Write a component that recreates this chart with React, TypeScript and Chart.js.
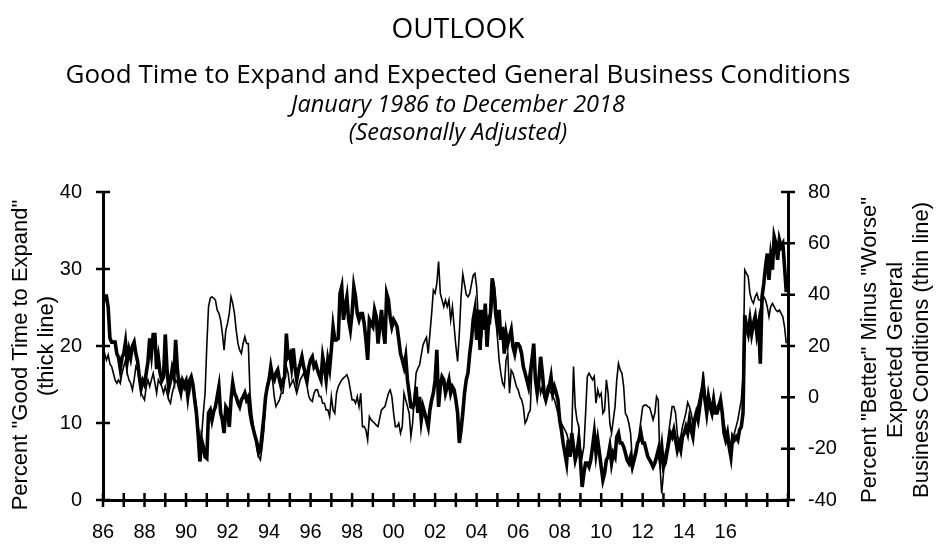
import React, { useEffect, useRef } from "react";
import Chart from "chart.js/auto";

// monthly series, one row per year (Jan..Dec)
const years = [
  1986, 1987, 1988, 1989, 1990, 1991, 1992, 1993, 1994, 1995, 1996,
  1997, 1998, 1999, 2000, 2001, 2002, 2003, 2004, 2005, 2006, 2007,
  2008, 2009, 2010, 2011, 2012, 2013, 2014, 2015, 2016, 2017, 2018,
];

// Percent "Good Time to Expand" (thick line, left axis)
const goodTimeToExpand = [
  25.5, 26.5, 26.5, 25, 21, 20.5, 20.5, 20.5, 19, 18.5, 17, 18.5,
  19, 20.5, 18, 19.5, 18.5, 20, 20.5, 19, 18, 16, 14.5, 15.5,
  15, 16.5, 18, 21, 19, 21.5, 21.5, 17, 18.5, 16.5, 15.5, 16,
  21.5, 17, 14.5, 15.5, 17, 16, 20.8, 17, 15, 14, 15.5, 15,
  15.5, 13.5, 15.5, 16, 15, 13, 11.3, 8.5, 5, 7.8, 6.9, 5.6,
  5.4, 11.3, 11.7, 10.4, 11.5, 12.1, 13.4, 14.7, 11.3, 10.4, 8.7, 12.1,
  11.7, 9.5, 13, 15.2, 13.9, 13.4, 12.6, 12.1, 13, 13.4, 13.9, 13,
  13.4, 11.3, 10, 9.1, 8.2, 7.4, 6.1, 6.5, 8.7, 10.8, 13.4, 14.7,
  15.6, 17.3, 16, 15.6, 16.5, 16.9, 15.6, 14.7, 15.6, 16, 21.6, 18.6,
  19, 17.3, 19.7, 17.3, 15.6, 16.9, 17.7, 18.6, 17.3, 16.5, 15.6, 17.3,
  18.2, 18.6, 17.3, 17.7, 16.9, 16.2, 15.6, 18.6, 17.3, 15.6, 18.2, 17,
  19.5, 22.5, 20.8, 20.8, 21, 26.8, 27.7, 23.4, 25.1, 26.4, 23.4, 22.1,
  24.2, 27.7, 26.4, 24.2, 23.4, 24.2, 24.2, 22.9, 20.8, 18.2, 23.4, 22.9,
  22.5, 24.7, 23.8, 20.3, 22.5, 24.7, 22.1, 20.3, 26.8, 26, 23.8, 22.5,
  23.4, 23, 22.5, 20.8, 19, 18.2, 17.3, 18.6, 15.6, 13.9, 12.1, 12,
  12.6, 14.7, 11.3, 13.4, 10.4, 12.1, 11.3, 10.4, 9.5, 11.7, 13, 13.9,
  15.6, 19.5, 12.1, 14.7, 16, 15.6, 13.9, 14.7, 15.6, 13.9, 14.7, 14.3,
  13, 11.3, 7.4, 9.1, 11.3, 13.9, 15.6, 16.5, 19, 20.8, 23.4, 24.7,
  20.8, 24.7, 19.5, 24.7, 22.1, 25.5, 19.9, 23.4, 24.2, 28.8, 27.3, 24.2,
  22.5, 24.7, 20.8, 22.5, 19, 21.6, 20.3, 21.2, 22.1, 19.9, 19, 20.3,
  20.3, 19.9, 19, 17.3, 16.5, 15.6, 14.7, 16.5, 18.2, 20.3, 15.6, 13.9,
  15.6, 18.6, 16.5, 13.9, 13, 13.9, 14.7, 16, 13.9, 14.7, 13.9, 13,
  10.4, 9.1, 7.4, 6.1, 4.8, 7.8, 5.6, 8.7, 6.9, 5.2, 6.1, 7.8,
  5.2, 1.7, 3.5, 4.8, 4.8, 4.3, 5.2, 6.9, 8.7, 6.1, 7.8, 6.1,
  4.3, 2.6, 3.5, 5.2, 5.6, 6.9, 4.8, 6.1, 5.6, 8.2, 8.7, 7.4,
  7.4, 6.9, 6.1, 5.2, 4.8, 5.6, 4.3, 5.2, 6.1, 7.4, 7.8, 8.7,
  7.4, 7.4, 6.5, 5.6, 5.2, 4.8, 4.3, 4.8, 5.6, 6.5, 5.2, 6.9,
  4.3, 4.8, 6.1, 7.4, 8.7, 8.2, 9.1, 7.8, 6.5, 7.4, 6.5, 8.2,
  8.7, 9.5, 8.7, 10.4, 9.1, 8.2, 10.4, 11.3, 10.4, 12.1, 13.9, 15,
  13, 11.3, 13.4, 12.1, 11.3, 13, 11.3, 11.3, 12.1, 13, 11.3, 8.7,
  7.8, 8.7, 6.9, 5.6, 8.2, 7.8, 8.2, 7.8, 9.1, 9.5, 11.3, 24,
  22.5, 21.6, 23.4, 21.6, 22.9, 23.8, 21.6, 22.9, 17.7, 26.4, 28.1, 30.3,
  32, 28.6, 31.6, 29.9, 34.2, 33.3, 31.2, 33.8, 32.9, 33.3, 30.3, 27,
];

// Percent "Better" minus "Worse" expected general business conditions (thin line, right axis)
const expectedConditions = [
  20, 17, 14.5, 16.5, 13, 12, 9.4, 6.8, 5.5, 6.8, 5.5, 9.4,
  12, 14.5, 9.4, 6.8, 5.5, 2.9, 6.8, 12, 10.6, 6.8, 1.6, 0.3,
  -1, 4.2, 6.8, 4.2, 6.8, 9.4, 5.5, 1.6, 6.8, 5.5, 4.2, 1.6,
  4.2, 1.6, -1, -2.3, 1.6, 4.2, 6.8, 5.5, 2.9, 6.8, 5.5, 2.9,
  4.2, 2.9, 1.6, 5.5, 4.2, 1.6, -3.6, -11.4, -17.9, -15.3, -6.2, 1.6,
  20, 35.3, 38.6, 39.2, 38.6, 37.9, 34, 32.7, 30.1, 24.9, 18.4, 26.2,
  28.8, 32.7, 39.2, 36.6, 32.7, 26.2, 21, 18.4, 17.1, 21, 23.6, 21,
  21, 1.6, -6.2, -11.4, -15.3, -20.5, -23.1, -24.4, -19.2, -12.7, -1, 5.5,
  8.1, 8.1, 6.8, 0.3, -3.6, -2.3, -1, 1.6, 1.6, 6.8, 12, 9.4,
  4.2, 5.5, 6.8, 4.2, 1.6, 4.2, 6.8, 8.1, 9.4, 6.8, 4.2, 0.3,
  -1, -1.6, 1.6, 2.9, 2.9, 0.3, 0.3, -2.3, -2.3, -4.9, -4.9, -7.5,
  0.3, -4.9, -6.2, 1.6, 4.2, 5.5, 6.8, 7.5, 8.1, 8.8, 6.8, 2.9,
  -1, -1, -2.3, 0.3, -3.6, 1.6, -11.4, -11.4, -12.7, -16.6, -7.5, -8.8,
  -9.4, -10.1, -10.8, -11.4, -8, -4.9, -4.2, -3.6, -1, 1.6, 2.9, 0.3,
  -6.2, -11.4, -11.4, -10.1, -14, -11.4, 1.6, -1, -3.6, -6.2, -15.3, -10,
  0.3, 9.4, 11.3, 12.6, 16.5, 20.4, 22, 23.4, 17.1, 24.9, 32.7, 41.8,
  40.5, 44.4, 52.9, 40.5, 37.9, 35.3, 37.9, 35.3, 37.9, 30.1, 35.3, 27.5,
  20, 14, 25, 39.2, 48, 44, 40, 39.2, 40.5, 44, 47.5, 48.3,
  43, 30, 25, 24, 33, 35, 31, 30, 29, 38, 45, 38,
  23.6, 14.5, 9.4, 5.5, 4.2, 14.5, 17.1, 1.6, 10.6, 9.4, 6.8, 4.2,
  2.9, 0.3, -1, -3.6, -10.1, -8.8, -6.2, -5, 12, 19.7, 8.1, 4.2,
  6.8, 1.6, 4.2, 0.3, 1.6, 4.2, 2.9, 1.6, 0.3, -1, -3.6, -6.2,
  -8.8, -10, -11.4, -12.7, -14, -16.6, -19.2, -14, 12, -3.6, -8.8, -11.4,
  -20, -23.1, -19.2, -6.2, 8.1, 9.4, 8.1, 6.8, 8.1, -2.3, 2.9, 0.3,
  1.6, -6.2, -4.9, 6.8, 1.6, -10.1, -14, -8.8, -3.6, 6.8, 13.2, 10.6,
  9.4, 4.2, -6.2, -7.5, -10.1, -14, -24.4, -23.1, -20.5, -17.9, -14, -8.8,
  -3.6, -3, -3, -3.6, -4, -6.2, -8.8, -6.2, 0.3, -1, -27, -37.4,
  -29.6, -21.8, -19.2, -14, -8.8, -3.6, -3.6, -6.2, -14, -19.2, -15.3, -11.4,
  -8.8, -6, -2, -3.6, -6.2, -10, -9, -6.2, -3, 0.3, 3.6, 10,
  1.6, -3.6, -2.3, -1, -3.6, -4.9, -4.9, -3.6, -2.3, -1, -6.2, -10.1,
  -14, -16.6, -17.9, -19.2, -16.6, -14, -11.4, -8.8, -4.9, -1, 8, 49.6,
  48.3, 47, 40.5, 37.9, 36.6, 39.2, 40.5, 38, 37.9, 36.6, 39.2, 37.9,
  35.3, 31.4, 35.3, 36.6, 35.3, 34, 33.4, 34, 32.7, 31.4, 27.5, 21,
];

const labeledYears = [1986, 1988, 1990, 1992, 1994, 1996, 1998, 2000, 2002, 2004, 2006, 2008, 2010, 2012, 2014, 2016];
const xTickLabels = ["86", "88", "90", "92", "94", "96", "98", "00", "02", "04", "06", "08", "10", "12", "14", "16"];

const headerLines = ["OUTLOOK", "Good Time to Expand and Expected General Business Conditions"];
const subHeaderLines = ["January 1986 to December 2018", "(Seasonally Adjusted)"];
const leftTitle = ['Percent "Good Time to Expand"', "(thick line)"];
const rightTitle = ['Percent "Better" Minus "Worse"', "Expected General", "Business Conditions (thin line)"];

const toPoints = (values: number[]) =>
  values.map((v, i) => ({ x: years[Math.floor(i / 12)] + (i % 12) / 12, y: v }));

const axisFont = { family: "'Liberation Sans', Arial, sans-serif", size: 20 };

// cross-shaped tick marks, header text and rotated axis titles
const decorPlugin = {
  id: "decor",
  afterDraw(chart: any) {
    const { ctx, chartArea: a, scales } = chart;
    ctx.save();
    ctx.strokeStyle = "#000";
    ctx.lineWidth = 2.5;
    ctx.beginPath();
    scales.x.ticks.forEach((t: any) => {
      const px = scales.x.getPixelForValue(t.value);
      ctx.moveTo(px, a.bottom - 7);
      ctx.lineTo(px, a.bottom + 7);
    });
    scales.y.ticks.forEach((t: any) => {
      const py = scales.y.getPixelForValue(t.value);
      ctx.moveTo(a.left - 7, py);
      ctx.lineTo(a.left + 7, py);
    });
    scales.y2.ticks.forEach((t: any) => {
      const py = scales.y2.getPixelForValue(t.value);
      ctx.moveTo(a.right - 7, py);
      ctx.lineTo(a.right + 7, py);
    });
    ctx.stroke();

    ctx.fillStyle = "#000";
    ctx.textAlign = "center";
    ctx.textBaseline = "middle";
    const cx = 458;
    ctx.font = "28px 'Open Sans'";
    ctx.fillText(headerLines[0], cx, 30);
    ctx.font = "26px 'Open Sans'";
    ctx.fillText(headerLines[1], cx, 76);
    ctx.font = "italic 23.5px 'Open Sans'";
    ctx.fillText(subHeaderLines[0], cx, 105);
    ctx.fillText(subHeaderLines[1], cx, 133);

    ctx.font = "22px 'Liberation Sans', Arial, sans-serif";
    const rotated = (text: string, x: number, y: number) => {
      ctx.save();
      ctx.translate(x, y);
      ctx.rotate(-Math.PI / 2);
      ctx.fillText(text, 0, 0);
      ctx.restore();
    };
    rotated(leftTitle[0], 21, 355);
    rotated(leftTitle[1], 47, 346);
    rotated(rightTitle[0], 870, 350);
    rotated(rightTitle[1], 896, 350);
    rotated(rightTitle[2], 922, 350);
    ctx.restore();
  },
};

const App: React.FC = () => {
  const chartRef = useRef<HTMLCanvasElement>(null);

  useEffect(() => {
    const ctx = chartRef.current?.getContext("2d");
    if (!ctx) return;
    const myChart = new Chart(ctx, {
      type: "line",
      data: {
        datasets: [
          {
            label: "Good Time to Expand",
            data: toPoints(goodTimeToExpand),
            yAxisID: "y",
            borderColor: "#000",
            borderWidth: 3.6,
            pointRadius: 0,
            tension: 0,
          },
          {
            label: "Expected General Business Conditions",
            data: toPoints(expectedConditions),
            yAxisID: "y2",
            borderColor: "#000",
            borderWidth: 1.6,
            pointRadius: 0,
            tension: 0,
          },
        ],
      },
      options: {
        responsive: true,
        maintainAspectRatio: false,
        animation: false,
        layout: { padding: { top: 192, left: 0, right: 0, bottom: 0 } },
        plugins: {
          legend: { display: false },
          tooltip: { enabled: false },
          title: { display: false },
        },
        scales: {
          x: {
            type: "linear",
            min: 1986,
            max: 2019,
            afterFit: (s: any) => {
              s.height = 50;
            },
            grid: { display: false, drawTicks: false },
            border: { display: true, color: "#000", width: 3 },
            ticks: {
              stepSize: 1,
              autoSkip: false,
              maxRotation: 0,
              padding: 20,
              color: "#000",
              font: axisFont,
              callback: (v: any) => {
                const i = labeledYears.indexOf(Number(v));
                return i >= 0 ? xTickLabels[i] : "";
              },
            },
          },
          y: {
            position: "left",
            min: 0,
            max: 40,
            afterFit: (s: any) => {
              s.width = 103;
            },
            grid: { display: false, drawTicks: false },
            border: { display: true, color: "#000", width: 3 },
            ticks: { stepSize: 10, padding: 21, color: "#000", font: axisFont },
          },
          y2: {
            position: "right",
            min: -40,
            max: 80,
            afterFit: (s: any) => {
              s.width = 153;
            },
            grid: { display: false, drawTicks: false },
            border: { display: true, color: "#000", width: 3 },
            ticks: { stepSize: 20, padding: 20, color: "#000", font: axisFont },
          },
        },
      } as any,
      plugins: [decorPlugin],
    });

    return () => myChart.destroy();
  }, []);

  return (
    <div style={{ position: "absolute", left: 0, top: 0, width: "941px", height: "550px", background: "#fff" }}>
      <canvas ref={chartRef} />
    </div>
  );
};

export default App;
